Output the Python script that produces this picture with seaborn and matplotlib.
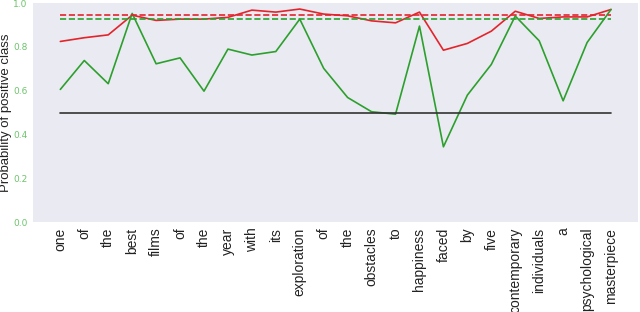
import matplotlib
matplotlib.use("Agg")
import matplotlib.pyplot as plt
import seaborn as sns
import numpy as np
import pandas as pd

words = ["one", "of", "the", "best", "films", "of", "the", "year", "with", "its",
         "exploration", "of", "the", "obstacles", "to", "happiness", "faced", "by",
         "five", "contemporary", "individuals", "a", "psychological", "masterpiece"]

red_vals = [0.825, 0.842, 0.855, 0.945, 0.921, 0.927, 0.927, 0.935, 0.968, 0.959,
            0.973, 0.950, 0.942, 0.919, 0.910, 0.959, 0.785, 0.816, 0.872, 0.963,
            0.930, 0.937, 0.937, 0.971]
green_vals = [0.606, 0.738, 0.632, 0.953, 0.723, 0.750, 0.598, 0.790, 0.763, 0.779,
              0.927, 0.702, 0.569, 0.504, 0.493, 0.895, 0.344, 0.580, 0.720, 0.941,
              0.828, 0.554, 0.820, 0.971]

red_mean = 0.944
green_mean = 0.928
threshold = 0.5

sns.set_style("dark")
plt.rcParams["font.family"] = ["Liberation Sans", "DejaVu Sans"]
fig, ax = plt.subplots(figsize=(6.4, 3.12), dpi=100)
fig.subplots_adjust(left=0.052, right=0.997, top=0.99, bottom=0.288)

n = len(words)
pos = np.arange(1, n + 1)
df = pd.DataFrame({"pos": pos, "red": red_vals, "green": green_vals})

red_c = "#e3242b"
green_c = "#2ca02c"
sns.lineplot(data=df, x="pos", y="red", color=red_c, lw=1.2, ax=ax)
sns.lineplot(data=df, x="pos", y="green", color=green_c, lw=1.2, ax=ax)
ax.plot([pos[0], pos[-1]], [threshold, threshold], color="#333333", lw=1.2)
ax.plot([pos[0], pos[-1]], [red_mean, red_mean], color=red_c, lw=1.2, ls="--")
ax.plot([pos[0], pos[-1]], [green_mean, green_mean], color=green_c, lw=1.2, ls="--")

ax.set_xlim(-0.13, n + 1.13)
ax.set_ylim(0, 1.0)
ax.set_xticks(pos)
ax.set_xticklabels(words, rotation=90, fontsize=10, color="#222222")
ax.set_yticks([0.0, 0.2, 0.4, 0.6, 0.8, 1.0])
ax.set_yticklabels(["0.0", "0.2", "0.4", "0.6", "0.8", "1.0"], fontsize=6.5, color="#6cc46c",
                   family="DejaVu Sans")
ax.tick_params(axis="both", length=0, pad=4)
ax.set_xlabel("")
ax.set_ylabel("Probability of positive class", fontsize=9.5, color="#222222", labelpad=1)
ax.grid(False)
for s in ax.spines.values():
    s.set_visible(False)

fig.savefig("out.png", dpi=100)
